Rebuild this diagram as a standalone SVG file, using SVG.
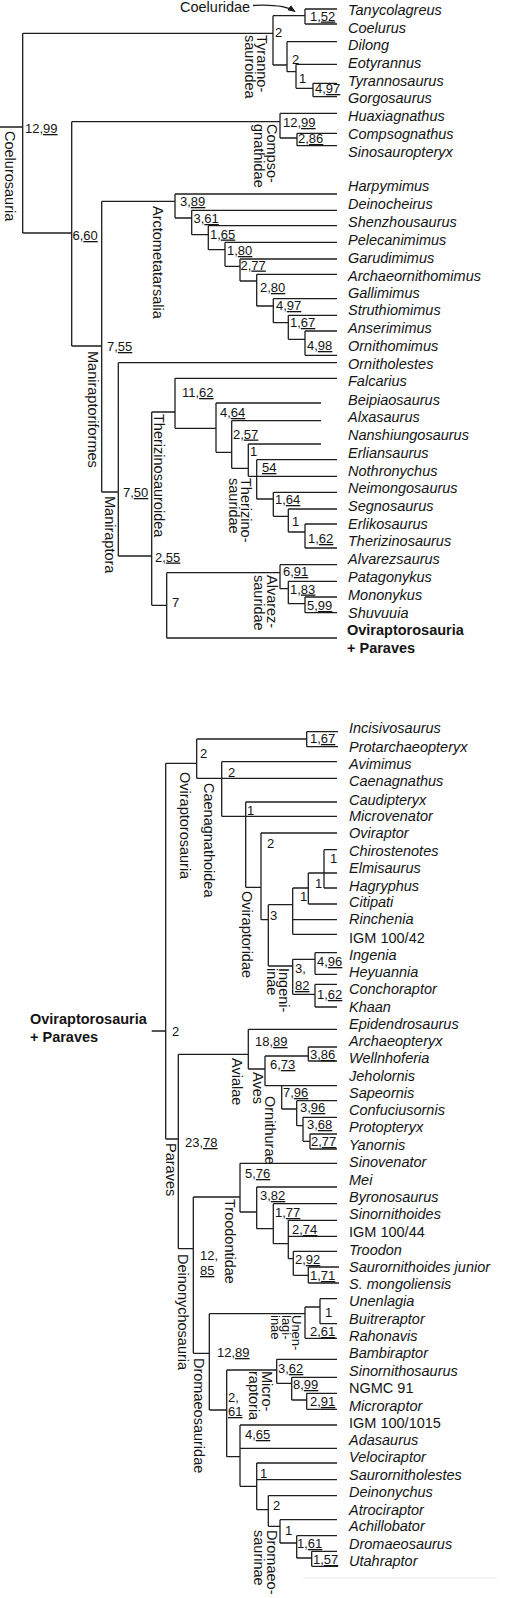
<svg xmlns="http://www.w3.org/2000/svg" width="510" height="1598" viewBox="0 0 510 1598">
<style>
text{font-family:"Liberation Sans",Arial,sans-serif;fill:#141414}
.t{font-size:14.5px;font-style:italic}
.u{font-size:14.5px}
.b{font-size:14.5px;font-weight:bold}
.n{font-size:13px}
.c{font-size:14.5px}
.ul{text-decoration:underline}
#edges path{fill:none;stroke:#1e1e1e;stroke-width:1.3}
</style>
<defs>
<marker id="ah" viewBox="0 0 10 10" refX="9" refY="5" markerWidth="6" markerHeight="6" orient="auto"><path d="M0,1L10,5L0,9z" fill="#1e1e1e"/></marker>
</defs>
<rect width="510" height="1598" fill="#fff"/>
<g id="edges">
<!-- top tree -->
<path d="M0,127H22.7M22.7,33.3V233M22.7,33.3H273M22.7,233H71.7"/>
<path d="M273,15.7V65M273,15.7H305M305,9V24M305,9H337M305,24H337"/>
<path d="M273,65H287M287,41.7V71.7M287,41.7H337M287,71.7H296M296,64.3V88.3M296,64.3H337M296,88.3H313M313,83.3V96.7M313,83.3H337M313,96.7H337"/>
<path d="M71.7,121.7V346M71.7,121.7H280M280,113.3V138M280,113.3H337M280,138H297M297,133.3V145.7M297,133.3H337M297,145.7H337"/>
<path d="M71.7,346H101.7M101.7,201.3V492M101.7,201.3H175"/>
<path d="M175,194V218M175,194H337M175,218H191.7M191.7,210.3V234.7M191.7,210.3H337M191.7,234.7H208.3M208.3,225.7V249.7M208.3,225.7H337M208.3,249.7H225M225,242.3V266.3M225,242.3H337M225,266.3H240M240,259V281M240,259H337M240,281H256.7M256.7,274.3V306M256.7,274.3H337M256.7,306H273.3M273.3,298.7V322.7M273.3,298.7H337M273.3,322.7H288.3M288.3,315.3V339.3M288.3,315.3H337M288.3,339.3H305M305,331V355.3M305,331H337M305,355.3H337"/>
<path d="M101.7,492H118.3M118.3,362.7V556M118.3,362.7H337M118.3,556H151.7M151.7,412V605.3M151.7,412H175"/>
<path d="M175,378.3V428.3M175,378.3H337M175,428.3H216M216,403V452.3M216,403H321M216,452.3H231.7M231.7,420.7V468.3M231.7,420.7H321M231.7,468.3H248.3M248.3,444V476.3M248.3,444H321M248.3,476.3H337M256.7,459.7V499M256.7,459.7H337M256.7,499H273.3M273.3,492.3V516.3M273.3,492.3H337M273.3,516.3H288.3M288.3,509V532M288.3,509H337M288.3,532H305M305,524V548M305,524H337M305,548H337"/>
<path d="M151.7,605.3H166.7M166.7,572.7V638M166.7,572.7H280M280,564.7V588.7M280,564.7H337M280,588.7H288.3M288.3,581.3V603.7M288.3,581.3H337M288.3,603.7H305M305,597V612.7M305,597H337M305,612.7H337M166.7,638H337"/>
<path d="M253,5.5C272,4.5 286,5.5 295,11.5" marker-end="url(#ah)"/>
<!-- bottom tree -->
<path d="M151.7,1031H165.7M165.7,763.3V1139M165.7,763.3H196.7M196.7,739V778.3M196.7,739H306.7M306.7,731.7V746.7M306.7,731.7H338M306.7,746.7H338M196.7,778.3H337"/>
<path d="M221.7,761.7V816.3M221.7,761.7H337M221.7,816.3H337M245.7,802V887.3M245.7,802H337M245.7,887.3H261M261,833V919.7M261,833H337M261,919.7H268.3M268.3,904.7V966M268.3,904.7H292.7M292.7,888V934.3M292.7,888H308.3M308.3,873V904M308.3,873H337M324,849.7V888M324,849.7H337M324,888H337M308.3,904H337M292.7,919.7H337M292.7,934.3H337"/>
<path d="M268.3,966H292.7M292.7,959.3V994.3M292.7,959.3H315M315,952.7V974.3M315,952.7H337M315,974.3H337M292.7,994.3H315M315,984.3V1007M315,984.3H337M315,1007H337"/>
<path d="M165.7,1139H178.3M178.3,1054.3V1248.7M178.3,1054.3H248.3M248.3,1029.3V1069M248.3,1029.3H337M248.3,1069H265M265,1056V1085.7M265,1056H308.3M308.3,1047V1061M308.3,1047H337M308.3,1061H337M265,1085.7H337M281.7,1085.7V1109M281.7,1109H296.7M296.7,1100.7V1125.7M296.7,1100.7H337M296.7,1125.7H303M303,1117.3V1141.3M303,1117.3H337M303,1141.3H310M310,1134V1149M310,1134H337M310,1149H337"/>
<path d="M178.3,1248.7H193.3M193.3,1197V1353.3M193.3,1197H240M240,1163.3V1212M240,1163.3H337M240,1212H256.7M256.7,1187V1228.7M256.7,1187H337M256.7,1228.7H273.3M273.3,1203.7V1243.7M273.3,1203.7H337M273.3,1243.7H288.3M288.3,1220.3V1258.7M288.3,1220.3H337M288.3,1236.3H337M288.3,1258.7H293.3M293.3,1251.3V1275.3M293.3,1251.3H337M293.3,1275.3H308.3M308.3,1267V1283M308.3,1267H339M308.3,1283H339"/>
<path d="M193.3,1353.3H209.3M209.3,1313.7V1410M209.3,1313.7H305M305,1307V1338.3M305,1307H320M320,1298.7V1323.7M320,1298.7H337M320,1323.7H337M305,1338.3H337"/>
<path d="M209.3,1410H226.7M226.7,1370V1456.7M226.7,1370H276.7M276.7,1359.3V1383.3M276.7,1359.3H337M276.7,1383.3H291.7M291.7,1377.3V1400M291.7,1377.3H337M291.7,1400H306.7M306.7,1393.3V1409.3M306.7,1393.3H337M306.7,1409.3H337"/>
<path d="M226.7,1456.7H240M240,1425V1486.3M240,1425H337M240,1448.3H337M240,1486.3H256.7M256.7,1463V1509.7M256.7,1463H337M256.7,1479.7H337M256.7,1509.7H268.3M268.3,1495.7V1526.3M268.3,1495.7H337M268.3,1526.3H280M280,1519.7V1543M280,1519.7H337M280,1543H296.7M296.7,1535.7V1558M296.7,1535.7H337M296.7,1558H311.7M311.7,1551.3V1566.3M311.7,1551.3H337M311.7,1566.3H338"/>
</g>
<line x1="303" y1="1578" x2="497" y2="1578" stroke="#ececec" stroke-width="1"/>

<!-- top taxa -->
<g id="tx-tanycolagreus"><text class="t" x="348" y="15">Tanycolagreus</text></g>
<g id="tx-coelurus"><text class="t" x="348" y="32.5">Coelurus</text></g>
<g id="tx-dilong"><text class="t" x="348" y="50">Dilong</text></g>
<g id="tx-eotyrannus"><text class="t" x="348" y="67.7">Eotyrannus</text></g>
<g id="tx-tyrannosaurus"><text class="t" x="348" y="86">Tyrannosaurus</text></g>
<g id="tx-gorgosaurus"><text class="t" x="348" y="103.3">Gorgosaurus</text></g>
<g id="tx-huaxiagnathus"><text class="t" x="348" y="121">Huaxiagnathus</text></g>
<g id="tx-compsognathus"><text class="t" x="348" y="139">Compsognathus</text></g>
<g id="tx-sinosauropteryx"><text class="t" x="348" y="157.3">Sinosauropteryx</text></g>
<g id="tx-harpymimus"><text class="t" x="348" y="191.3">Harpymimus</text></g>
<g id="tx-deinocheirus"><text class="t" x="348" y="209">Deinocheirus</text></g>
<g id="tx-shenzhousaurus"><text class="t" x="348" y="227.3">Shenzhousaurus</text></g>
<g id="tx-pelecanimimus"><text class="t" x="348" y="245.3">Pelecanimimus</text></g>
<g id="tx-garudimimus"><text class="t" x="348" y="263">Garudimimus</text></g>
<g id="tx-archaeornithomimus"><text class="t" x="348" y="281">Archaeornithomimus</text></g>
<g id="tx-gallimimus"><text class="t" x="348" y="298.3">Gallimimus</text></g>
<g id="tx-struthiomimus"><text class="t" x="348" y="315.3">Struthiomimus</text></g>
<g id="tx-anserimimus"><text class="t" x="348" y="333.3">Anserimimus</text></g>
<g id="tx-ornithomimus"><text class="t" x="348" y="351">Ornithomimus</text></g>
<g id="tx-ornitholestes"><text class="t" x="348" y="368.7">Ornitholestes</text></g>
<g id="tx-falcarius"><text class="t" x="348" y="386.3">Falcarius</text></g>
<g id="tx-beipiaosaurus"><text class="t" x="348" y="404.5">Beipiaosaurus</text></g>
<g id="tx-alxasaurus"><text class="t" x="348" y="422.3">Alxasaurus</text></g>
<g id="tx-nanshiungosaurus"><text class="t" x="348" y="440">Nanshiungosaurus</text></g>
<g id="tx-erliansaurus"><text class="t" x="348" y="458">Erliansaurus</text></g>
<g id="tx-nothronychus"><text class="t" x="348" y="475.7">Nothronychus</text></g>
<g id="tx-neimongosaurus"><text class="t" x="348" y="493.3">Neimongosaurus</text></g>
<g id="tx-segnosaurus"><text class="t" x="348" y="511.3">Segnosaurus</text></g>
<g id="tx-erlikosaurus"><text class="t" x="348" y="529">Erlikosaurus</text></g>
<g id="tx-therizinosaurus"><text class="t" x="348" y="546.3">Therizinosaurus</text></g>
<g id="tx-alvarezsaurus"><text class="t" x="348" y="564.3">Alvarezsaurus</text></g>
<g id="tx-patagonykus"><text class="t" x="348" y="582">Patagonykus</text></g>
<g id="tx-mononykus"><text class="t" x="348" y="599.7">Mononykus</text></g>
<g id="tx-shuvuuia"><text class="t" x="348" y="617.7">Shuvuuia</text></g>
<g id="tx-ovi-paraves-top"><text class="b" x="347" y="635.3">Oviraptorosauria</text><text class="b" x="347" y="653">+ Paraves</text></g>

<!-- bottom taxa -->
<g id="tx-ovi-paraves-root"><text class="b" x="30" y="1024">Oviraptorosauria</text><text class="b" x="30" y="1041.5">+ Paraves</text></g>
<g id="tx-incisivosaurus"><text class="t" x="349" y="733.3">Incisivosaurus</text></g>
<g id="tx-protarchaeopteryx"><text class="t" x="349" y="751.7">Protarchaeopteryx</text></g>
<g id="tx-avimimus"><text class="t" x="349" y="769">Avimimus</text></g>
<g id="tx-caenagnathus"><text class="t" x="349" y="786">Caenagnathus</text></g>
<g id="tx-caudipteryx"><text class="t" x="349" y="804.7">Caudipteryx</text></g>
<g id="tx-microvenator"><text class="t" x="349" y="821.3">Microvenator</text></g>
<g id="tx-oviraptor"><text class="t" x="349" y="838">Oviraptor</text></g>
<g id="tx-chirostenotes"><text class="t" x="349" y="855.7">Chirostenotes</text></g>
<g id="tx-elmisaurus"><text class="t" x="349" y="873">Elmisaurus</text></g>
<g id="tx-hagryphus"><text class="t" x="349" y="890.7">Hagryphus</text></g>
<g id="tx-citipati"><text class="t" x="349" y="907.3">Citipati</text></g>
<g id="tx-rinchenia"><text class="t" x="349" y="924">Rinchenia</text></g>
<g id="tx-igm10042"><text class="u" x="349" y="942.7">IGM 100/42</text></g>
<g id="tx-ingenia"><text class="t" x="349" y="960">Ingenia</text></g>
<g id="tx-heyuannia"><text class="t" x="349" y="977">Heyuannia</text></g>
<g id="tx-conchoraptor"><text class="t" x="349" y="994.3">Conchoraptor</text></g>
<g id="tx-khaan"><text class="t" x="349" y="1012">Khaan</text></g>
<g id="tx-epidendrosaurus"><text class="t" x="349" y="1028.7">Epidendrosaurus</text></g>
<g id="tx-archaeopteryx"><text class="t" x="349" y="1046">Archaeopteryx</text></g>
<g id="tx-wellnhoferia"><text class="t" x="349" y="1062.7">Wellnhoferia</text></g>
<g id="tx-jeholornis"><text class="t" x="349" y="1080.7">Jeholornis</text></g>
<g id="tx-sapeornis"><text class="t" x="349" y="1098">Sapeornis</text></g>
<g id="tx-confuciusornis"><text class="t" x="349" y="1115">Confuciusornis</text></g>
<g id="tx-protopteryx"><text class="t" x="349" y="1132.3">Protopteryx</text></g>
<g id="tx-yanornis"><text class="t" x="349" y="1150">Yanornis</text></g>
<g id="tx-sinovenator"><text class="t" x="349" y="1167.3">Sinovenator</text></g>
<g id="tx-mei"><text class="t" x="349" y="1185">Mei</text></g>
<g id="tx-byronosaurus"><text class="t" x="349" y="1202.3">Byronosaurus</text></g>
<g id="tx-sinornithoides"><text class="t" x="349" y="1219.3">Sinornithoides</text></g>
<g id="tx-igm10044"><text class="u" x="349" y="1237">IGM 100/44</text></g>
<g id="tx-troodon"><text class="t" x="349" y="1254.7">Troodon</text></g>
<g id="tx-saurornithoides-junior"><text class="t" x="349" y="1272">Saurornithoides junior</text></g>
<g id="tx-s-mongoliensis"><text class="t" x="349" y="1289.3">S. mongoliensis</text></g>
<g id="tx-unenlagia"><text class="t" x="349" y="1306.3">Unenlagia</text></g>
<g id="tx-buitreraptor"><text class="t" x="349" y="1323.7">Buitreraptor</text></g>
<g id="tx-rahonavis"><text class="t" x="349" y="1341">Rahonavis</text></g>
<g id="tx-bambiraptor"><text class="t" x="349" y="1358.3">Bambiraptor</text></g>
<g id="tx-sinornithosaurus"><text class="t" x="349" y="1375.7">Sinornithosaurus</text></g>
<g id="tx-ngmc91"><text class="u" x="349" y="1393.3">NGMC 91</text></g>
<g id="tx-microraptor"><text class="t" x="349" y="1410.7">Microraptor</text></g>
<g id="tx-igm1001015"><text class="u" x="349" y="1427.7">IGM 100/1015</text></g>
<g id="tx-adasaurus"><text class="t" x="349" y="1445">Adasaurus</text></g>
<g id="tx-velociraptor"><text class="t" x="349" y="1461.7">Velociraptor</text></g>
<g id="tx-saurornitholestes"><text class="t" x="349" y="1479.7">Saurornitholestes</text></g>
<g id="tx-deinonychus"><text class="t" x="349" y="1497.3">Deinonychus</text></g>
<g id="tx-atrociraptor"><text class="t" x="349" y="1514.7">Atrociraptor</text></g>
<g id="tx-achillobator"><text class="t" x="349" y="1531.3">Achillobator</text></g>
<g id="tx-dromaeosaurus"><text class="t" x="349" y="1549">Dromaeosaurus</text></g>
<g id="tx-utahraptor"><text class="t" x="349" y="1566.3">Utahraptor</text></g>

<!-- clade names -->
<g id="cl-coeluridae"><text class="u" x="180" y="12">Coeluridae</text></g>
<g id="cl-coelurosauria"><text class="c" transform="translate(5,131) rotate(90)">Coelurosauria</text></g>
<g id="cl-tyrannosauroidea"><text class="c" transform="translate(257,35) rotate(90)">Tyranno-</text><text class="c" transform="translate(245,35) rotate(90)">sauroidea</text></g>
<g id="cl-compsognathidae"><text class="c" transform="translate(267,124) rotate(90)">Compso-</text><text class="c" transform="translate(254,124) rotate(90)">gnathidae</text></g>
<g id="cl-arctometatarsalia"><text class="c" transform="translate(153,206) rotate(90)">Arctometatarsalia</text></g>
<g id="cl-maniraptoriformes"><text class="c" transform="translate(88,351) rotate(90)">Maniraptoriformes</text></g>
<g id="cl-maniraptora"><text class="c" transform="translate(105,496) rotate(90)">Maniraptora</text></g>
<g id="cl-therizinosauroidea"><text class="c" transform="translate(154,414) rotate(90)">Therizinosauroidea</text></g>
<g id="cl-therizinosauridae"><text class="c" transform="translate(241,478) rotate(90)">Therizino-</text><text class="c" transform="translate(229,478) rotate(90)">sauridae</text></g>
<g id="cl-alvarezsauridae"><text class="c" transform="translate(267,575) rotate(90)">Alvarez-</text><text class="c" transform="translate(254,575) rotate(90)">sauridae</text></g>
<g id="cl-oviraptorosauria"><text class="c" transform="translate(180,772) rotate(90)">Oviraptorosauria</text></g>
<g id="cl-caenagnathoidea"><text class="c" transform="translate(204,783) rotate(90)">Caenagnathoidea</text></g>
<g id="cl-oviraptoridae"><text class="c" transform="translate(242,891) rotate(90)">Oviraptoridae</text></g>
<g id="cl-ingeniinae"><text class="c" transform="translate(279,968) rotate(90)">Ingeni-</text><text class="c" transform="translate(267,968) rotate(90)">inae</text></g>
<g id="cl-avialae"><text class="c" transform="translate(232,1058) rotate(90)">Avialae</text></g>
<g id="cl-aves"><text class="c" transform="translate(253,1072) rotate(90)">Aves</text></g>
<g id="cl-ornithurae"><text class="c" transform="translate(265,1096) rotate(90)">Ornithurae</text></g>
<g id="cl-paraves"><text class="c" transform="translate(166,1143) rotate(90)">Paraves</text></g>
<g id="cl-troodontidae"><text class="c" transform="translate(225,1199) rotate(90)">Troodontidae</text></g>
<g id="cl-deinonychosauria"><text class="c" transform="translate(178,1254) rotate(90)">Deinonychosauria</text></g>
<g id="cl-dromaeosauridae"><text class="c" transform="translate(194,1358) rotate(90)">Dromaeosauridae</text></g>
<g id="cl-unenlagiinae"><text class="n" transform="translate(292,1315) rotate(90)">Unen-</text><text class="n" transform="translate(282,1315) rotate(90)">lagi-</text><text class="n" transform="translate(271,1315) rotate(90)">inae</text></g>
<g id="cl-microraptoria"><text class="c" transform="translate(262,1371) rotate(90)">Micro-</text><text class="c" transform="translate(249,1371) rotate(90)">raptoria</text></g>
<g id="cl-dromaeosaurinae"><text class="c" transform="translate(267,1530) rotate(90)">Dromaeo-</text><text class="c" transform="translate(254,1530) rotate(90)">saurinae</text></g>

<!-- support values -->
<g id="sv-top">
<text class="n" x="275" y="37">2</text>
<text class="n" x="310" y="20.5">1,<tspan class="ul">52</tspan></text>
<text class="n" x="292" y="64">2</text>
<text class="n" x="299" y="83">1</text>
<text class="n" x="315" y="93">4,<tspan class="ul">97</tspan></text>
<text class="n" x="283" y="127">12,<tspan class="ul">99</tspan></text>
<text class="n" x="298" y="143">2,<tspan class="ul">86</tspan></text>
<text class="n" x="25" y="133">12,<tspan class="ul">99</tspan></text>
<text class="n" x="72.5" y="240">6,<tspan class="ul">60</tspan></text>
<text class="n" x="180" y="206">3,<tspan class="ul">89</tspan></text>
<text class="n" x="193.5" y="223">3,<tspan class="ul">61</tspan></text>
<text class="n" x="210" y="238.5">1,<tspan class="ul">65</tspan></text>
<text class="n" x="227" y="255">1,<tspan class="ul">80</tspan></text>
<text class="n" x="240.5" y="269.5">2,<tspan class="ul">77</tspan></text>
<text class="n" x="260" y="292">2,<tspan class="ul">80</tspan></text>
<text class="n" x="276" y="310">4,<tspan class="ul">97</tspan></text>
<text class="n" x="290" y="327">1,<tspan class="ul">67</tspan></text>
<text class="n" x="307" y="350">4,<tspan class="ul">98</tspan></text>
<text class="n" x="107" y="351">7,<tspan class="ul">55</tspan></text>
<text class="n" x="182" y="397">11,<tspan class="ul">62</tspan></text>
<text class="n" x="220" y="417">4,<tspan class="ul">64</tspan></text>
<text class="n" x="233" y="438.5">2,<tspan class="ul">57</tspan></text>
<text class="n" x="250" y="456">1</text>
<text class="n" x="262" y="472"><tspan class="ul">54</tspan></text>
<text class="n" x="123" y="497">7,<tspan class="ul">50</tspan></text>
<text class="n" x="275" y="504">1,<tspan class="ul">64</tspan></text>
<text class="n" x="292" y="526">1</text>
<text class="n" x="308" y="543">1,<tspan class="ul">62</tspan></text>
<text class="n" x="155" y="561.5">2,<tspan class="ul">55</tspan></text>
<text class="n" x="283" y="576">6,<tspan class="ul">91</tspan></text>
<text class="n" x="290" y="593.5">1,<tspan class="ul">83</tspan></text>
<text class="n" x="307" y="610">5,<tspan class="ul">99</tspan></text>
<text class="n" x="172" y="607">7</text>
</g>
<g id="sv-bottom">
<text class="n" x="310" y="743">1,<tspan class="ul">67</tspan></text>
<text class="n" x="200" y="758">2</text>
<text class="n" x="228" y="777">2</text>
<text class="n" x="247" y="815">1</text>
<text class="n" x="267" y="848">2</text>
<text class="n" x="330" y="863">1</text>
<text class="n" x="315" y="888">1</text>
<text class="n" x="300" y="901">1</text>
<text class="n" x="270" y="920">3</text>
<text class="n" x="295" y="973">3,</text>
<text class="n" x="295" y="990"><tspan class="ul">82</tspan></text>
<text class="n" x="317" y="966">4,<tspan class="ul">96</tspan></text>
<text class="n" x="317" y="999">1,<tspan class="ul">62</tspan></text>
<text class="n" x="172" y="1036">2</text>
<text class="n" x="255" y="1046">18,<tspan class="ul">89</tspan></text>
<text class="n" x="310" y="1059">3,<tspan class="ul">86</tspan></text>
<text class="n" x="270" y="1069">6,<tspan class="ul">73</tspan></text>
<text class="n" x="283" y="1097">7,<tspan class="ul">96</tspan></text>
<text class="n" x="300" y="1112">3,<tspan class="ul">96</tspan></text>
<text class="n" x="307" y="1129">3,<tspan class="ul">68</tspan></text>
<text class="n" x="311" y="1146">2,<tspan class="ul">77</tspan></text>
<text class="n" x="185" y="1147">23,<tspan class="ul">78</tspan></text>
<text class="n" x="245" y="1178">5,<tspan class="ul">76</tspan></text>
<text class="n" x="260" y="1200">3,<tspan class="ul">82</tspan></text>
<text class="n" x="275" y="1217">1,<tspan class="ul">77</tspan></text>
<text class="n" x="292" y="1234">2,<tspan class="ul">74</tspan></text>
<text class="n" x="295" y="1264">2,<tspan class="ul">92</tspan></text>
<text class="n" x="310" y="1280">1,<tspan class="ul">71</tspan></text>
<text class="n" x="200" y="1260">12,</text>
<text class="n" x="200" y="1275"><tspan class="ul">85</tspan></text>
<text class="n" x="325" y="1317">1</text>
<text class="n" x="310" y="1336">2,<tspan class="ul">61</tspan></text>
<text class="n" x="217" y="1357">12,<tspan class="ul">89</tspan></text>
<text class="n" x="278" y="1373">3,<tspan class="ul">62</tspan></text>
<text class="n" x="293" y="1389">8,<tspan class="ul">99</tspan></text>
<text class="n" x="310" y="1406">2,<tspan class="ul">91</tspan></text>
<text class="n" x="228" y="1402">2,</text>
<text class="n" x="228" y="1416"><tspan class="ul">61</tspan></text>
<text class="n" x="245" y="1439">4,<tspan class="ul">65</tspan></text>
<text class="n" x="260" y="1478">1</text>
<text class="n" x="273" y="1510">2</text>
<text class="n" x="285" y="1535">1</text>
<text class="n" x="297" y="1548">1,<tspan class="ul">61</tspan></text>
<text class="n" x="313" y="1564">1,<tspan class="ul">57</tspan></text>
</g>
</svg>
